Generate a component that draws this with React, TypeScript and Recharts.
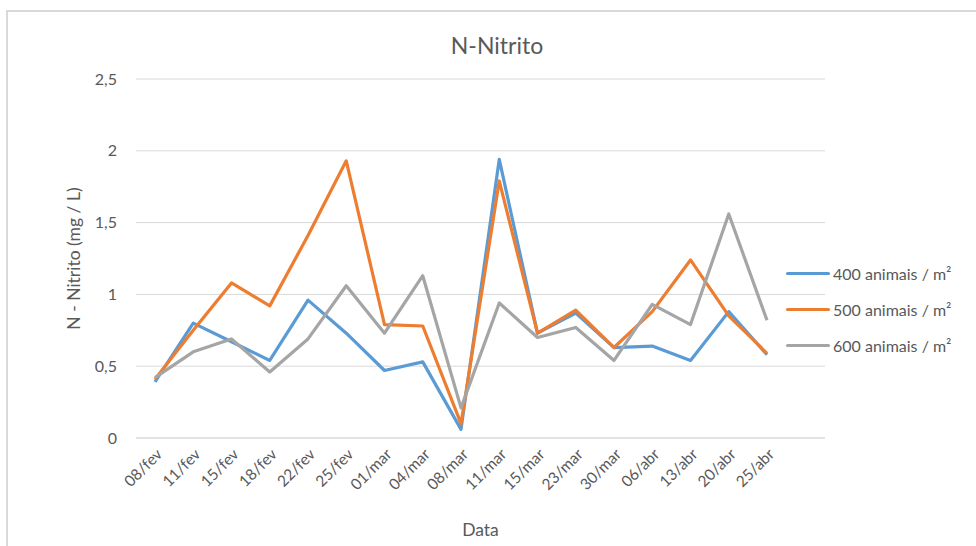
import { LineChart, Line, XAxis, YAxis, CartesianGrid, Legend } from "recharts";

const categories = [
  "08/fev", "11/fev", "15/fev", "18/fev", "22/fev", "25/fev", "01/mar", "04/mar", "08/mar",
  "11/mar", "15/mar", "23/mar", "30/mar", "06/abr", "13/abr", "20/abr", "25/abr",
];

const s400 = [0.39, 0.8, 0.67, 0.54, 0.96, 0.73, 0.47, 0.53, 0.06, 1.94, 0.73, 0.87, 0.63, 0.64, 0.54, 0.88, 0.58];
const s500 = [0.41, 0.75, 1.08, 0.92, 1.41, 1.93, 0.79, 0.78, 0.1, 1.79, 0.73, 0.89, 0.63, 0.88, 1.24, 0.85, 0.59];
const s600 = [0.42, 0.6, 0.69, 0.46, 0.69, 1.06, 0.73, 1.13, 0.21, 0.94, 0.7, 0.77, 0.54, 0.93, 0.79, 1.56, 0.82];

const yTicks = [0, 0.5, 1, 1.5, 2, 2.5];

const series = [
  { key: "s400", name: "400 animais / m²", color: "#5B9BD5", values: s400 },
  { key: "s500", name: "500 animais / m²", color: "#ED7D31", values: s500 },
  { key: "s600", name: "600 animais / m²", color: "#A5A5A5", values: s600 },
];

const data = categories.map((date, i) => {
  const row: Record<string, string | number> = { date };
  series.forEach((s) => {
    row[s.key] = s.values[i];
  });
  return row;
});

const FONT = "Lato, 'Open Sans', sans-serif";
const TEXT = "#595959";

const XTick = (props: any) => {
  const { x, y, payload } = props;
  return (
    <text
      x={x + 4}
      y={y + 5}
      transform={`rotate(-45 ${x + 4} ${y + 5})`}
      textAnchor="end"
      dominantBaseline="central"
      fontSize={15.5}
      fill={TEXT}
      fontFamily={FONT}
    >
      {payload.value}
    </text>
  );
};

const LegendBox = () => (
  <div style={{ fontFamily: FONT, fontSize: 16, color: TEXT }}>
    {series.map((s) => (
      <div key={s.key} style={{ display: "flex", alignItems: "center", height: 36 }}>
        <span style={{ display: "inline-block", width: 44, height: 3, background: s.color, borderRadius: 2, marginRight: 3 }} />
        <span>{s.name}</span>
      </div>
    ))}
  </div>
);

export default function App() {
  return (
    <div style={{ position: "absolute", left: 0, top: 0, width: 976, height: 546, background: "#fff", overflow: "hidden" }}>
      <div
        style={{
          position: "absolute",
          left: 6,
          top: 10,
          width: 1000,
          height: 600,
          border: "2px solid #D9D9D9",
          boxSizing: "border-box",
        }}
      />
      <div
        style={{
          position: "absolute",
          left: 0,
          top: 31,
          width: 994,
          textAlign: "center",
          fontFamily: FONT,
          fontSize: 23,
          color: TEXT,
        }}
      >
        N-Nitrito
      </div>
      <LineChart
        width={976}
        height={546}
        data={data}
        margin={{ top: 79, right: 151, left: 0, bottom: 0 }}
        style={{ position: "absolute", left: 0, top: 0 }}
      >
        <CartesianGrid vertical={false} stroke="#D9D9D9" strokeWidth={1} />
        <XAxis
          dataKey="date"
          interval={0}
          height={108}
          padding={{ left: 19, right: 58 }}
          tick={<XTick />}
          tickLine={false}
          axisLine={{ stroke: "#D9D9D9" }}
          label={{ value: "Data", position: "insideBottom", offset: 10, fill: TEXT, fontSize: 17.5, fontFamily: FONT }}
        />
        <YAxis
          width={136}
          domain={[0, 2.5]}
          ticks={yTicks}
          tickFormatter={(v: number) => String(v).replace(".", ",")}
          tickLine={false}
          axisLine={false}
          tickSize={0}
          tickMargin={19}
          tick={{ fill: TEXT, fontSize: 16, fontFamily: FONT }}
          label={{
            value: "N - Nitrito (mg / L)",
            angle: -90,
            position: "insideLeft",
            offset: 74,
            style: { textAnchor: "middle", fill: TEXT, fontSize: 17.5, fontFamily: FONT },
          }}
        />
        <Legend
          layout="horizontal"
          verticalAlign="middle"
          align="center"
          content={<LegendBox />}
          wrapperStyle={{ position: "absolute", left: 786, top: 255, width: 190 }}
        />
        {series.map((s) => (
          <Line
            key={s.key}
            type="linear"
            dataKey={s.key}
            name={s.name}
            stroke={s.color}
            strokeWidth={3.2}
            strokeLinejoin="round"
            dot={false}
            activeDot={false}
            isAnimationActive={false}
          />
        ))}
      </LineChart>
    </div>
  );
}
